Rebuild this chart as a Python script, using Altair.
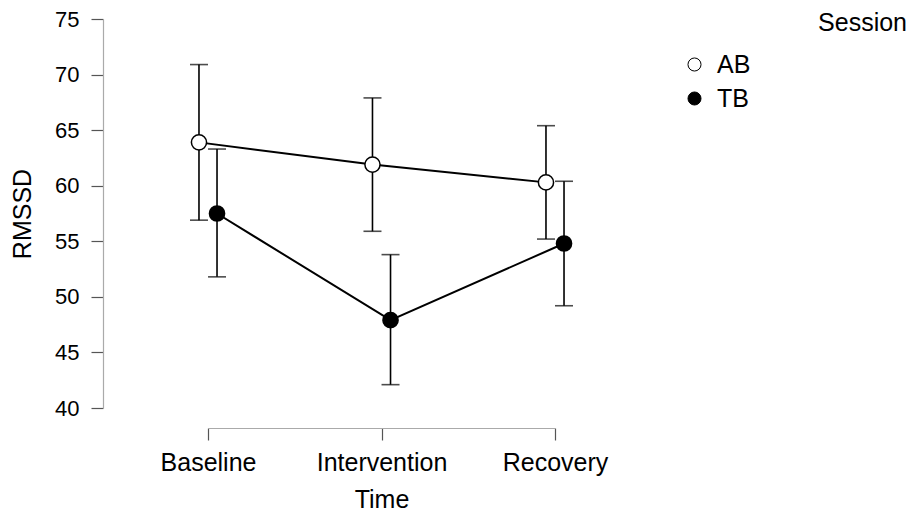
import altair as alt
import pandas as pd

# ---- data ----
time_labels = ["Baseline", "Intervention", "Recovery"]
sessions = ["AB", "TB"]
ab_mean = [63.9, 61.9, 60.3]
ab_lo = [56.9, 55.9, 55.2]
ab_hi = [70.9, 67.9, 65.4]
tb_mean = [57.5, 47.9, 54.8]
tb_lo = [51.8, 42.1, 49.2]
tb_hi = [63.3, 53.8, 60.4]
y_ticks = [40, 45, 50, 55, 60, 65, 70, 75]

rows = []
for s, m, lo, hi in [("AB", ab_mean, ab_lo, ab_hi), ("TB", tb_mean, tb_lo, tb_hi)]:
    for i, t in enumerate(time_labels):
        rows.append({"Session": s, "Time": t, "idx": i, "mean": m[i], "lo": lo[i], "hi": hi[i]})
df = pd.DataFrame(rows)

FONT = "Liberation Sans"
FS = 25
DODGE = 0.052

label_expr = "[" + ",".join("'" + t + "'" for t in time_labels) + "][datum.value]"

x_enc = alt.X(
    "xd:Q",
    scale=alt.Scale(domain=[0, 2], nice=False, zero=False),
    axis=alt.Axis(
        values=[0, 1, 2], labelExpr=label_expr, title="Time", offset=20,
        tickSize=12, labelPadding=10, titlePadding=12, grid=False,
        labelFlush=False, labelFontSize=FS, labelOverlap=False,
    ),
)
y_scale = alt.Scale(domain=[40, 75], nice=False, zero=False)

base = alt.Chart(df).transform_calculate(
    xd=f"datum.idx + (datum.Session == 'AB' ? -{DODGE} : {DODGE})"
)

lines = base.mark_line(color="black", strokeWidth=2).encode(
    x=x_enc,
    y=alt.Y("mean:Q", scale=y_scale,
            axis=alt.Axis(values=y_ticks, title="RMSSD", offset=105, tickSize=12,
                          labelPadding=12, titlePadding=19, grid=False,
                          labelFontSize=22, labelFlush=False)),
    detail="Session:N",
)
bars = base.mark_rule(color="black", strokeWidth=1.6).encode(
    x=x_enc, y=alt.Y("lo:Q", scale=y_scale), y2="hi:Q"
)
cap_lo = base.mark_tick(orient="horizontal", size=18, thickness=1.6, color="black").encode(
    x=x_enc, y=alt.Y("lo:Q", scale=y_scale)
)
cap_hi = base.mark_tick(orient="horizontal", size=18, thickness=1.6, color="black").encode(
    x=x_enc, y=alt.Y("hi:Q", scale=y_scale)
)
points = base.mark_point(filled=True, shape="circle", size=230, stroke="black",
                         strokeWidth=1.5, opacity=1).encode(
    x=x_enc,
    y=alt.Y("mean:Q", scale=y_scale),
    fill=alt.Fill(
        "Session:N",
        scale=alt.Scale(domain=sessions, range=["white", "black"]),
        legend=alt.Legend(
            title=None, orient="none", legendX=474, legendY=33, padding=0,
            symbolSize=170, symbolStrokeColor="black", symbolStrokeWidth=1,
            labelFontSize=FS, labelFont=FONT, labelColor="black",
            labelOffset=10, rowPadding=8,
        ),
    ),
)

chart = alt.layer(lines, bars, cap_lo, cap_hi, points).properties(
    width=347,
    height=389,
    autosize=alt.AutoSizeParams(type="none"),
    padding={"left": 200, "top": 11, "right": 357, "bottom": 104},
    title=alt.TitleParams(
        "Session", anchor="end", frame="group", dx=352, dy=40, fontSize=FS,
        font=FONT, fontWeight="normal", color="black", baseline="middle", offset=0,
    ),
).configure_axis(
    labelFont=FONT, labelColor="black",
    titleFont=FONT, titleFontSize=FS, titleColor="black", titleFontWeight="normal",
    tickColor="#555555", domainColor="#aaaaaa", tickWidth=1.2, domainWidth=1.2,
).configure_view(stroke=None)

chart.save("out.html", embed_options={"renderer": "svg", "actions": False})
